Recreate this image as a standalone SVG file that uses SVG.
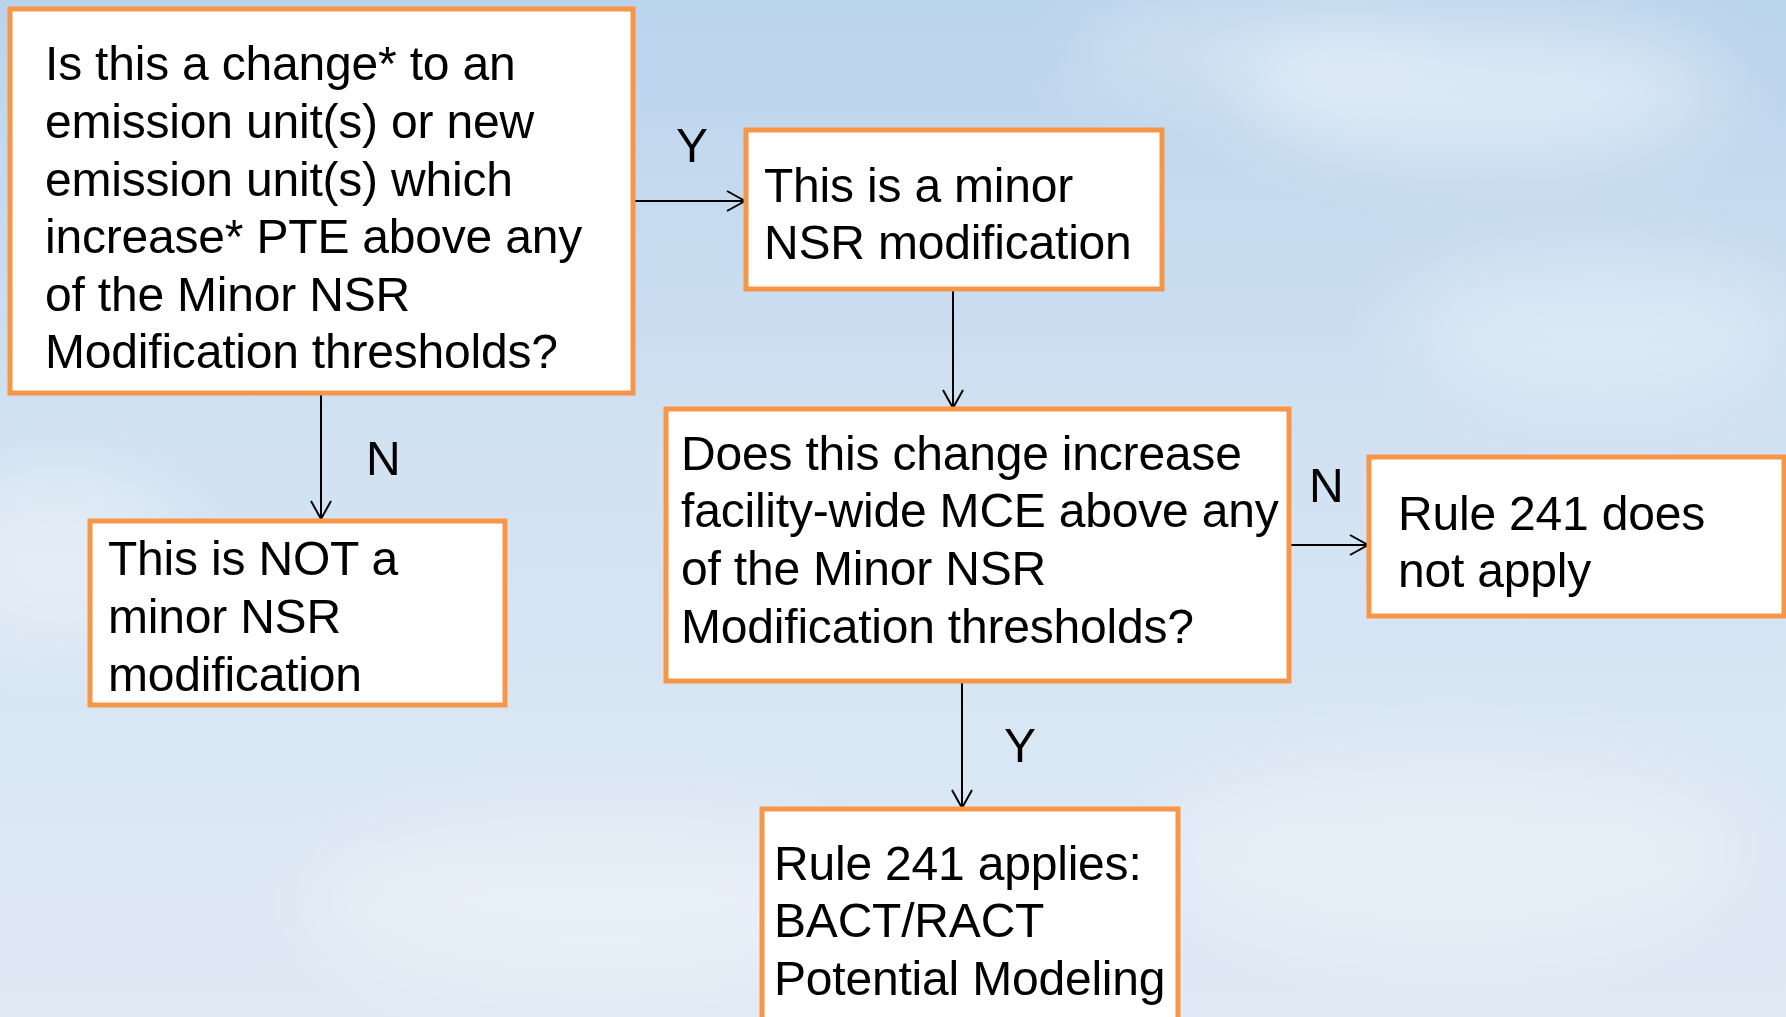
<svg xmlns="http://www.w3.org/2000/svg" width="1786" height="1017" viewBox="0 0 1786 1017">
<defs>
<linearGradient id="sky" x1="0" y1="0" x2="0" y2="1">
<stop offset="0" stop-color="#bad4ec"/>
<stop offset="0.45" stop-color="#d2e2f2"/>
<stop offset="1" stop-color="#e0eaf5"/>
</linearGradient>
<filter id="blur" x="-50%" y="-50%" width="200%" height="200%"><feGaussianBlur stdDeviation="40"/></filter>
<marker id="arr" markerUnits="userSpaceOnUse" markerWidth="24" markerHeight="24" viewBox="-20 -12 24 24" refX="0" refY="0" orient="auto">
<polyline points="-18,-10 0,0 -18,10" fill="none" stroke="#000" stroke-width="2"/>
</marker>
<style>
.box{fill:#fff;stroke:#f79646;stroke-width:5}
.t{font-family:"Liberation Sans",Arial,sans-serif;font-size:48px;fill:#000;letter-spacing:-0.2px}
.c{stroke:#000;stroke-width:2;fill:none;marker-end:url(#arr)}
</style>
</defs>
<rect width="1786" height="1017" fill="url(#sky)"/>
<g filter="url(#blur)" fill="#ffffff">
<ellipse cx="1480" cy="90" rx="240" ry="70" opacity="0.45"/>
<ellipse cx="1250" cy="50" rx="180" ry="45" opacity="0.3"/>
<ellipse cx="1600" cy="330" rx="200" ry="80" opacity="0.3"/>
<ellipse cx="60" cy="560" rx="120" ry="90" opacity="0.35"/>
<ellipse cx="600" cy="900" rx="300" ry="90" opacity="0.3"/>
<ellipse cx="1450" cy="850" rx="300" ry="100" opacity="0.3"/>
</g>
<g id="connectors">
<line class="c" x1="634" y1="201" x2="745" y2="201"/>
<line class="c" x1="321" y1="394" x2="321" y2="519"/>
<line class="c" x1="953" y1="290" x2="953" y2="408"/>
<line class="c" x1="1290" y1="545" x2="1368" y2="545"/>
<line class="c" x1="962" y1="682" x2="962" y2="808"/>
<text class="t" x="676" y="162">Y</text>
<text class="t" x="366" y="475">N</text>
<text class="t" x="1309" y="502">N</text>
<text class="t" x="1004" y="762">Y</text>
</g>
<g id="q1">
<rect class="box" x="10" y="9" width="623" height="384"/>
<text class="t"><tspan x="45" y="80">Is this a change* to an</tspan><tspan x="45" y="138">emission unit(s) or new</tspan><tspan x="45" y="196">emission unit(s) which</tspan><tspan x="45" y="253">increase* PTE above any</tspan><tspan x="45" y="311">of the Minor NSR</tspan><tspan x="45" y="368">Modification thresholds?</tspan></text>
</g>
<g id="minor">
<rect class="box" x="746" y="130" width="416" height="159"/>
<text class="t"><tspan x="764" y="202">This is a minor</tspan><tspan x="764" y="259">NSR modification</tspan></text>
</g>
<g id="notminor">
<rect class="box" x="90" y="521" width="415" height="184"/>
<text class="t"><tspan x="108" y="575">This is NOT a</tspan><tspan x="108" y="633">minor NSR</tspan><tspan x="108" y="691">modification</tspan></text>
</g>
<g id="q2">
<rect class="box" x="666" y="409" width="623" height="272"/>
<text class="t"><tspan x="681" y="470">Does this change increase</tspan><tspan x="681" y="527">facility-wide MCE above any</tspan><tspan x="681" y="585">of the Minor NSR</tspan><tspan x="681" y="643">Modification thresholds?</tspan></text>
</g>
<g id="notapply">
<rect class="box" x="1369" y="457" width="415" height="159"/>
<text class="t"><tspan x="1398" y="530">Rule 241 does</tspan><tspan x="1398" y="587">not apply</tspan></text>
</g>
<g id="applies">
<rect class="box" x="762" y="809" width="416" height="230"/>
<text class="t"><tspan x="774" y="880">Rule 241 applies:</tspan><tspan x="774" y="937">BACT/RACT</tspan><tspan x="774" y="995">Potential Modeling</tspan></text>
</g>
</svg>
